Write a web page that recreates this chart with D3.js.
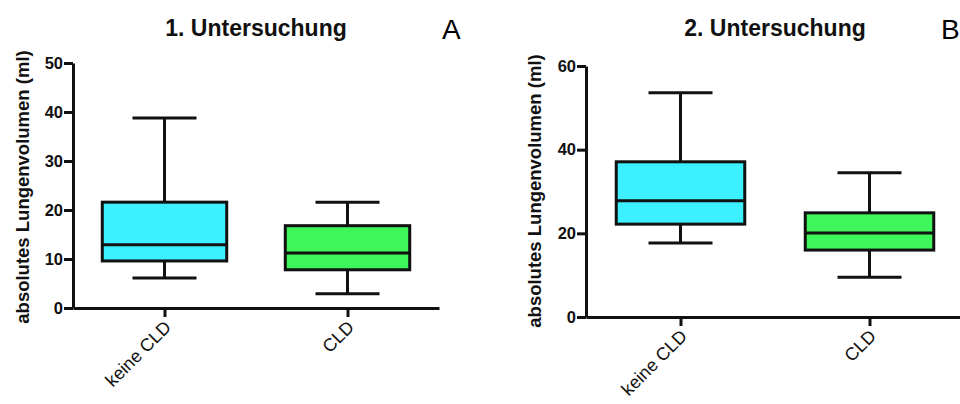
<!DOCTYPE html>
<html>
<head>
<meta charset="utf-8">
<script src="https://cdn.jsdelivr.net/npm/d3@7"></script>
<style>
  body { margin: 0; background: #fff; }
  svg { display: block; font-family: "Liberation Sans", Arial, sans-serif; }
</style>
</head>
<body>
<div id="chart"></div>
<script>
// categories shared by both panels
var categories = ["keine CLD", "CLD"]
var boxColors = ["#3cf0ff", "#3ef55a"]

// panel A: 1. Untersuchung
var minA    = [6.1, 2.9]
var q1A     = [9.6, 7.8]
var medianA = [12.9, 11.2]
var q3A     = [21.6, 16.8]
var maxA    = [38.8, 21.6]
var ticksA  = [0, 10, 20, 30, 40, 50]

// panel B: 2. Untersuchung
var minB    = [17.7, 9.5]
var q1B     = [22.2, 16.0]
var medianB = [27.8, 20.1]
var q3B     = [37.1, 24.9]
var maxB    = [53.6, 34.5]
var ticksB  = [0, 20, 40, 60]

var yLabel = "absolutes Lungenvolumen (ml)"

var svg = d3.select("#chart")
    .append("svg")
    .attr("width", 960)
    .attr("height", 404)

function drawPanel(p) {
  var x = d3.scalePoint().domain(categories).range([p.left, p.right]).padding(0.5)
  var y = d3.scaleLinear().domain([0, p.yMax]).range([p.bottom, p.top])
  var step = x.step()
  var boxW = step * 0.68
  var capW = 64

  var rows = categories.map(function(c, i) {
    return {cat: c, min: p.min[i], q1: p.q1[i], med: p.median[i], q3: p.q3[i], max: p.max[i], color: boxColors[i]}
  })

  var g = svg.append("g")

  // y axis
  var yAxis = g.append("g")
      .attr("transform", "translate(" + p.left + ",0)")
      .call(d3.axisLeft(y).tickValues(p.ticks).tickSize(9).tickSizeOuter(0).tickPadding(1))
  yAxis.selectAll("path, line").attr("stroke", "#111").attr("stroke-width", 3)
  yAxis.selectAll("text")
      .attr("fill", "#111")
      .style("font-size", "16.5px")
      .style("font-weight", "bold")

  // x axis
  var xAxis = g.append("g")
      .attr("transform", "translate(0," + p.bottom + ")")
      .call(d3.axisBottom(x).tickSize(9).tickSizeOuter(0).tickPadding(2))
  xAxis.selectAll("path, line").attr("stroke", "#111").attr("stroke-width", 3)
  xAxis.selectAll("text")
      .attr("fill", "#111")
      .attr("text-anchor", "end")
      .attr("dy", "0.35em")
      .attr("transform", "translate(-5,8) rotate(-45)")
      .style("font-size", "18px")

  // whiskers
  var box = g.selectAll(".box").data(rows).enter().append("g")
  box.append("line")
      .attr("x1", function(d) { return x(d.cat) }).attr("x2", function(d) { return x(d.cat) })
      .attr("y1", function(d) { return y(d.min) }).attr("y2", function(d) { return y(d.max) })
      .attr("stroke", "#111").attr("stroke-width", 3)
  box.append("line")
      .attr("x1", function(d) { return x(d.cat) - capW / 2 }).attr("x2", function(d) { return x(d.cat) + capW / 2 })
      .attr("y1", function(d) { return y(d.max) }).attr("y2", function(d) { return y(d.max) })
      .attr("stroke", "#111").attr("stroke-width", 3)
  box.append("line")
      .attr("x1", function(d) { return x(d.cat) - capW / 2 }).attr("x2", function(d) { return x(d.cat) + capW / 2 })
      .attr("y1", function(d) { return y(d.min) }).attr("y2", function(d) { return y(d.min) })
      .attr("stroke", "#111").attr("stroke-width", 3)
  box.append("rect")
      .attr("x", function(d) { return x(d.cat) - boxW / 2 })
      .attr("width", boxW)
      .attr("y", function(d) { return y(d.q3) })
      .attr("height", function(d) { return y(d.q1) - y(d.q3) })
      .attr("fill", function(d) { return d.color })
      .attr("stroke", "#111").attr("stroke-width", 3)
  box.append("line")
      .attr("x1", function(d) { return x(d.cat) - boxW / 2 }).attr("x2", function(d) { return x(d.cat) + boxW / 2 })
      .attr("y1", function(d) { return y(d.med) }).attr("y2", function(d) { return y(d.med) })
      .attr("stroke", "#111").attr("stroke-width", 3)

  // title
  g.append("text")
      .attr("x", (p.left + p.right) / 2)
      .attr("y", 36)
      .attr("text-anchor", "middle")
      .attr("fill", "#111")
      .style("font-size", "23px")
      .style("font-weight", "bold")
      .text(p.title)

  // panel letter
  g.append("text")
      .attr("x", p.letterX)
      .attr("y", 39)
      .attr("fill", "#000")
      .style("font-size", "28px")
      .text(p.letter)

  // y label
  g.append("text")
      .attr("transform", "translate(" + p.labelX + "," + p.labelY + ") rotate(-90)")
      .attr("text-anchor", "middle")
      .attr("fill", "#111")
      .style("font-size", "18.5px")
      .style("font-weight", "bold")
      .text(yLabel)
}

drawPanel({
  title: "1. Untersuchung", letter: "A", letterX: 442,
  left: 73, right: 439, top: 63, bottom: 308, yMax: 50, ticks: ticksA,
  labelX: 29, labelY: 187,
  min: minA, q1: q1A, median: medianA, q3: q3A, max: maxA
})

drawPanel({
  title: "2. Untersuchung", letter: "B", letterX: 941,
  left: 586, right: 964, top: 66, bottom: 317, yMax: 60, ticks: ticksB,
  labelX: 541, labelY: 191,
  min: minB, q1: q1B, median: medianB, q3: q3B, max: maxB
})
</script>
</body>
</html>
